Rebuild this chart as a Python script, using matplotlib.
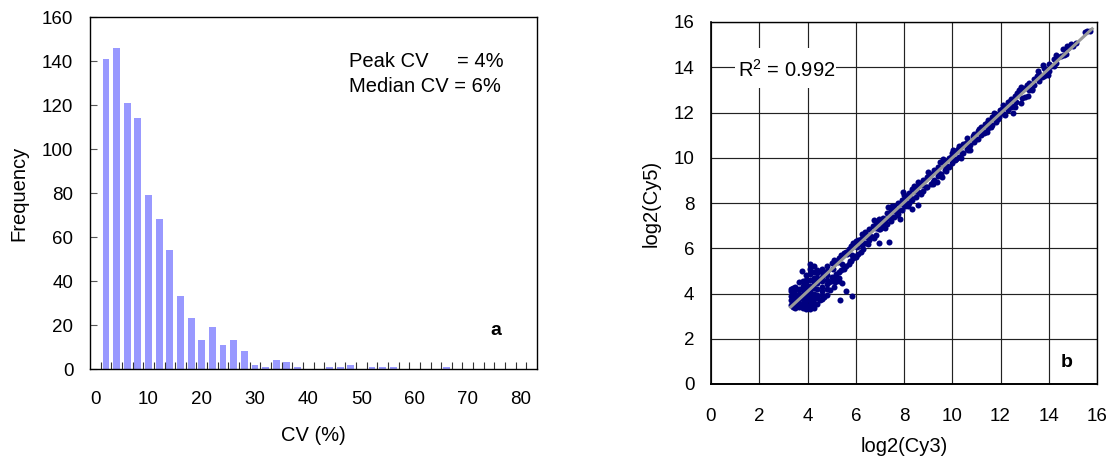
import matplotlib
matplotlib.use("Agg")
import matplotlib.pyplot as plt
from matplotlib.patches import Rectangle

plt.rcParams['font.family'] = ['Liberation Sans', 'DejaVu Sans']
plt.rcParams['mathtext.fontset'] = 'custom'
plt.rcParams['mathtext.rm'] = 'Liberation Sans'

# panel a, histogram
cv_bins = [2, 4, 6, 8, 10, 12, 14, 16, 18, 20, 22, 24, 26, 28, 30, 32, 34, 36, 38, 40,
           42, 44, 46, 48, 50, 52, 54, 56, 58, 60, 62, 64, 66, 68, 70, 72, 74, 76, 78, 80, 82]
frequency = [141, 146, 121, 114, 79, 68, 54, 33, 23, 13, 19, 11, 13, 8, 2, 1, 4, 3, 1, 0,
             0, 1, 1, 2, 0, 1, 1, 1, 0, 0, 0, 0, 1, 0, 0, 0, 0, 0, 0, 0, 0]

# panel b, scatter: low cluster, band, filler along the line, edges, top end, outliers
low_cy3 = [3.3, 3.3, 3.3, 3.3, 3.3,
           3.4, 3.4, 3.4, 3.4, 3.4,
           3.5, 3.5, 3.5, 3.5, 3.5, 3.5,
           3.65, 3.65, 3.65, 3.65, 3.65, 3.65,
           3.8, 3.8, 3.8, 3.8, 3.8, 3.8, 3.8,
           3.95, 3.95, 3.95, 3.95, 3.95, 3.95, 3.95, 3.95, 3.95,
           4.1, 4.1, 4.1, 4.1, 4.1, 4.1, 4.1, 4.1, 4.1, 4.1,
           4.25, 4.25, 4.25, 4.25, 4.25, 4.25, 4.25, 4.25, 4.25,
           4.4, 4.4, 4.4, 4.4, 4.4, 4.4, 4.4, 4.4,
           4.6, 4.6, 4.6, 4.6, 4.6, 4.6, 4.6, 4.6,
           4.8, 4.8, 4.8, 4.8, 4.8, 4.8, 4.8,
           4.5, 4.7, 4.95, 5.1, 5.0, 5.15, 5.3]
low_cy5 = [3.5, 3.7, 3.9, 4.1, 4.2,
           3.4, 3.6, 3.8, 4.0, 4.25,
           3.35, 3.55, 3.75, 3.95, 4.15, 4.3,
           3.4, 3.6, 3.8, 4.0, 4.2, 4.5,
           3.35, 3.55, 3.75, 3.95, 4.15, 4.35, 4.55,
           3.3, 3.5, 3.7, 3.9, 4.1, 4.3, 4.5, 4.6, 4.8,
           3.3, 3.5, 3.7, 3.9, 4.1, 4.35, 4.6, 4.85, 5.1, 5.3,
           3.35, 3.6, 3.8, 4.0, 4.25, 4.5, 4.7, 4.95, 5.2,
           3.55, 3.8, 3.95, 4.2, 4.45, 4.7, 4.9, 5.05,
           3.75, 3.95, 4.1, 4.3, 4.55, 4.75, 4.95, 5.1,
           3.95, 4.2, 4.4, 4.6, 4.8, 5.0, 5.2,
           3.7, 3.85, 4.15, 4.3, 4.55, 4.5, 4.7]

band_cy3 = [4.9, 5.0, 5.0, 5.1, 5.1, 5.2, 5.2, 5.3, 5.3, 5.4, 5.4, 5.5, 5.5, 5.6, 5.6,
            5.7, 5.7, 5.8, 5.8, 5.9, 5.9, 6.0, 6.0, 6.1, 6.1, 6.2, 6.2, 6.3, 6.3,
            6.4, 6.4, 6.55, 6.55, 6.55, 6.7, 6.7, 6.76, 6.85, 6.85, 6.85, 7.0, 7.0,
            7.15, 7.15, 7.15, 7.3, 7.3, 7.33, 7.45, 7.45, 7.45, 7.6, 7.6,
            7.75, 7.75, 7.75, 7.84, 7.9, 7.9, 7.97, 8.05, 8.05, 8.05, 8.2, 8.2,
            8.32, 8.35, 8.35, 8.5, 8.5, 8.59, 8.59, 8.65, 8.65, 8.8, 8.8, 8.95, 8.95,
            9.1, 9.1, 9.25, 9.25, 9.35, 9.4, 9.4, 9.56, 9.55, 9.63, 9.7, 9.7,
            9.85, 9.85, 10.0, 10.0, 10.15, 10.15, 10.3, 10.3, 10.45, 10.45,
            10.6, 10.6, 10.73, 10.75, 10.9, 10.9, 11.05, 11.05, 11.2, 11.2,
            11.35, 11.35, 11.5, 11.5, 11.65, 11.65, 11.8, 11.8, 11.97, 11.95,
            12.15, 12.15, 12.3, 12.3, 12.45, 12.45, 12.6, 12.6, 12.65, 12.8, 12.83, 12.87,
            13.0, 13.0, 13.14, 13.2, 13.2, 13.4, 13.4, 13.6, 13.6, 13.75, 13.8, 13.8,
            14.0, 14.0, 14.2, 14.2, 14.4, 14.6, 14.65, 14.8, 14.94]
band_cy5 = [4.5, 5.35, 4.75, 5.5, 4.7, 5.45, 4.85, 5.55, 4.95, 5.7, 5.05, 5.8, 5.1, 5.85, 5.2,
            5.95, 5.3, 6.1, 5.45, 6.25, 5.55, 6.3, 5.6, 6.35, 5.75, 6.4, 5.85, 6.5, 5.95,
            6.7, 6.25, 6.85, 6.35, 6.6, 7.0, 6.5, 7.27, 7.15, 6.6, 6.9, 7.2, 6.85,
            7.35, 6.95, 7.1, 7.55, 7.05, 7.83, 7.7, 7.2, 7.4, 7.85, 7.4,
            8.0, 7.5, 7.7, 7.3, 8.15, 7.7, 8.47, 8.3, 7.85, 8.05, 8.45, 8.0,
            7.72, 8.6, 8.15, 8.7, 8.25, 8.94, 7.91, 8.85, 8.45, 9.0, 8.55, 9.15, 8.7,
            9.3, 8.85, 9.45, 9.0, 8.94, 9.6, 9.2, 9.16, 9.3, 9.93, 9.85, 9.45,
            10.0, 9.6, 10.2, 9.75, 10.3, 9.95, 10.5, 10.05, 10.6, 10.2,
            10.86, 10.4, 10.34, 10.55, 11.05, 10.7, 11.2, 10.85, 11.35, 11.0,
            11.5, 11.15, 11.65, 11.3, 11.8, 11.45, 11.95, 11.6, 12.11, 11.8,
            12.3, 11.95, 12.45, 12.1, 12.6, 12.25, 12.75, 12.26, 12.45, 12.95, 13.14, 12.41,
            13.1, 12.7, 12.73, 13.3, 13.0, 13.5, 13.2, 13.7, 13.4, 14.1, 13.95, 13.6,
            14.15, 13.85, 14.35, 14.05, 14.45, 14.8, 14.55, 14.85, 15.03]

fill_cy3 = [5.05, 5.25, 5.45, 5.65, 5.85, 6.05, 6.25, 6.45, 6.6, 6.8, 6.95, 7.1, 7.25, 7.4, 7.55, 7.7,
            7.85, 8.0, 8.15, 8.3, 8.45, 8.6, 8.75, 8.9, 9.05, 9.2, 9.35, 9.5, 9.65, 9.8, 9.95, 10.1,
            10.25, 10.4, 10.55, 10.7, 10.85, 11.0, 11.15, 11.3, 11.45, 11.6, 11.75, 11.9, 12.05, 12.2,
            12.35, 12.5, 12.7, 12.9, 13.1, 13.3, 13.5, 13.7, 13.9, 14.1, 14.3, 14.5, 14.7,
            15.0, 15.15]
fill_cy5 = [5.1, 5.4, 5.3, 5.75, 5.7, 6.05, 6.15, 6.5, 6.55, 6.95, 6.85, 7.05, 7.3, 7.35, 7.65, 7.6,
            7.95, 7.9, 8.25, 8.2, 8.55, 8.5, 8.8, 8.7, 9.2, 8.95, 9.4, 9.3, 9.7, 9.65, 10.05, 9.9,
            10.4, 10.2, 10.65, 10.5, 10.95, 10.85, 11.25, 11.1, 11.55, 11.35, 11.75, 11.7, 12.15, 11.9,
            12.45, 12.3, 12.85, 12.65, 13.2, 13.05, 13.6, 13.55, 13.85, 14.05, 14.2, 14.5, 14.6,
            14.95, 15.05]

edge_cy3 = [5.5, 5.75, 6.0, 6.25, 6.5, 6.75, 6.95, 7.2, 7.5, 7.7, 8.0, 8.15, 8.4, 8.7, 9.0, 9.2,
            9.5, 9.75, 10.05, 10.35, 10.65, 11.1, 11.45, 11.75, 12.1, 12.5, 12.75, 13.3, 13.55,
            13.95, 14.3, 14.75]
edge_cy5 = [5.15, 5.45, 5.65, 6.65, 6.2, 6.45, 7.3, 6.9, 7.85, 7.45, 8.35, 7.85, 8.75, 8.4, 9.35, 8.85,
            9.8, 9.4, 10.35, 10.0, 10.35, 11.25, 11.15, 12.0, 12.35, 12.0, 13.0, 13.0, 13.85,
            13.65, 14.55, 14.95]

top_cy3 = [15.49, 15.6, 15.73]
top_cy5 = [15.55, 15.6, 15.62]

out_cy3 = [5.35, 5.84, 5.59, 5.43, 5.3, 3.77, 6.97, 7.38]
out_cy5 = [3.73, 3.89, 4.12, 4.45, 4.55, 4.98, 6.24, 6.28]

fit_cy3 = [3.3, 15.8]
fit_cy5 = [3.4, 15.7]

W, H = 1108, 458


def px_axes(fig, left, top, right, bottom):
    return fig.add_axes([left / W, 1 - bottom / H, (right - left) / W, (bottom - top) / H])


def histogram(ax):
    ax.bar(cv_bins, frequency, width=1.3, color='#9999ff', linewidth=0)
    ax.set_xlim(-1, 83)
    ax.set_ylim(0, 160)
    ax.set_yticks(range(0, 161, 20))
    ax.set_xticks(range(1, 83, 2))
    ax.set_xticklabels([])
    ax.set_xticks(range(0, 81, 10), [str(v) for v in range(0, 81, 10)], minor=True)
    ax.tick_params(axis='x', which='major', direction='in', length=5, width=0.8, color='#333333')
    ax.tick_params(axis='x', which='minor', length=0, pad=16, labelsize=13.5)
    ax.tick_params(axis='y', direction='in', length=5, width=0.8, color='#555555', pad=12, labelsize=13.5)
    ax.set_xlabel('CV (%)', fontsize=14.5, labelpad=13)
    ax.set_ylabel('Frequency', fontsize=14.5, labelpad=10)
    ax.text(47.7, 139.8, 'Peak CV', fontsize=14.5, va='center', ha='left')
    ax.text(68, 139.8, '= 4%', fontsize=14.5, va='center', ha='left')
    ax.text(47.7, 128.6, 'Median CV = 6%', fontsize=14.5, va='center', ha='left')
    ax.text(75.3, 17.3, 'a', fontsize=14, fontweight='bold', ha='center', va='center')
    for s in ax.spines.values():
        s.set_linewidth(1.0)


def scatter(ax):
    ax.set_axisbelow(True)
    ax.grid(True, color='#222222', linewidth=0.85)
    for xs, ys in [(low_cy3, low_cy5), (band_cy3, band_cy5), (fill_cy3, fill_cy5),
                   (edge_cy3, edge_cy5), (top_cy3, top_cy5), (out_cy3, out_cy5)]:
        ax.scatter(xs, ys, s=19, color='#000080', linewidths=0, zorder=3)
    ax.plot(fit_cy3, fit_cy5, color='#999999', linewidth=2.2, zorder=4)
    ax.set_xlim(0, 16)
    ax.set_ylim(0, 16)
    ax.set_xticks(range(0, 17, 2))
    ax.set_yticks(range(0, 17, 2))
    ax.tick_params(axis='x', length=0, pad=17, labelsize=13.5)
    ax.tick_params(axis='y', length=0, pad=12, labelsize=13.5)
    ax.set_xlabel('log2(Cy3)', fontsize=14.5, labelpad=9)
    ax.set_ylabel('log2(Cy5)', fontsize=14.5, labelpad=9)
    ax.add_patch(Rectangle((1.0, 13.1), 4.2, 1.77, facecolor='white', edgecolor='none', zorder=5))
    ax.text(1.12, 13.58, r'R$^{2}$ = 0.992', fontsize=14.5, ha='left', va='baseline', zorder=6)
    ax.text(14.75, 0.96, 'b', fontsize=14, fontweight='bold', ha='center', va='center')
    for s in ax.spines.values():
        s.set_linewidth(1.0)
    ax.spines['left'].set_linewidth(1.2)
    ax.spines['bottom'].set_linewidth(1.4)


if __name__ == '__main__':
    fig = plt.figure(figsize=(W / 100, H / 100), dpi=100)
    histogram(px_axes(fig, 90, 17, 537, 369))
    scatter(px_axes(fig, 711, 22, 1097, 384))
    fig.savefig('out.png', dpi=100)
